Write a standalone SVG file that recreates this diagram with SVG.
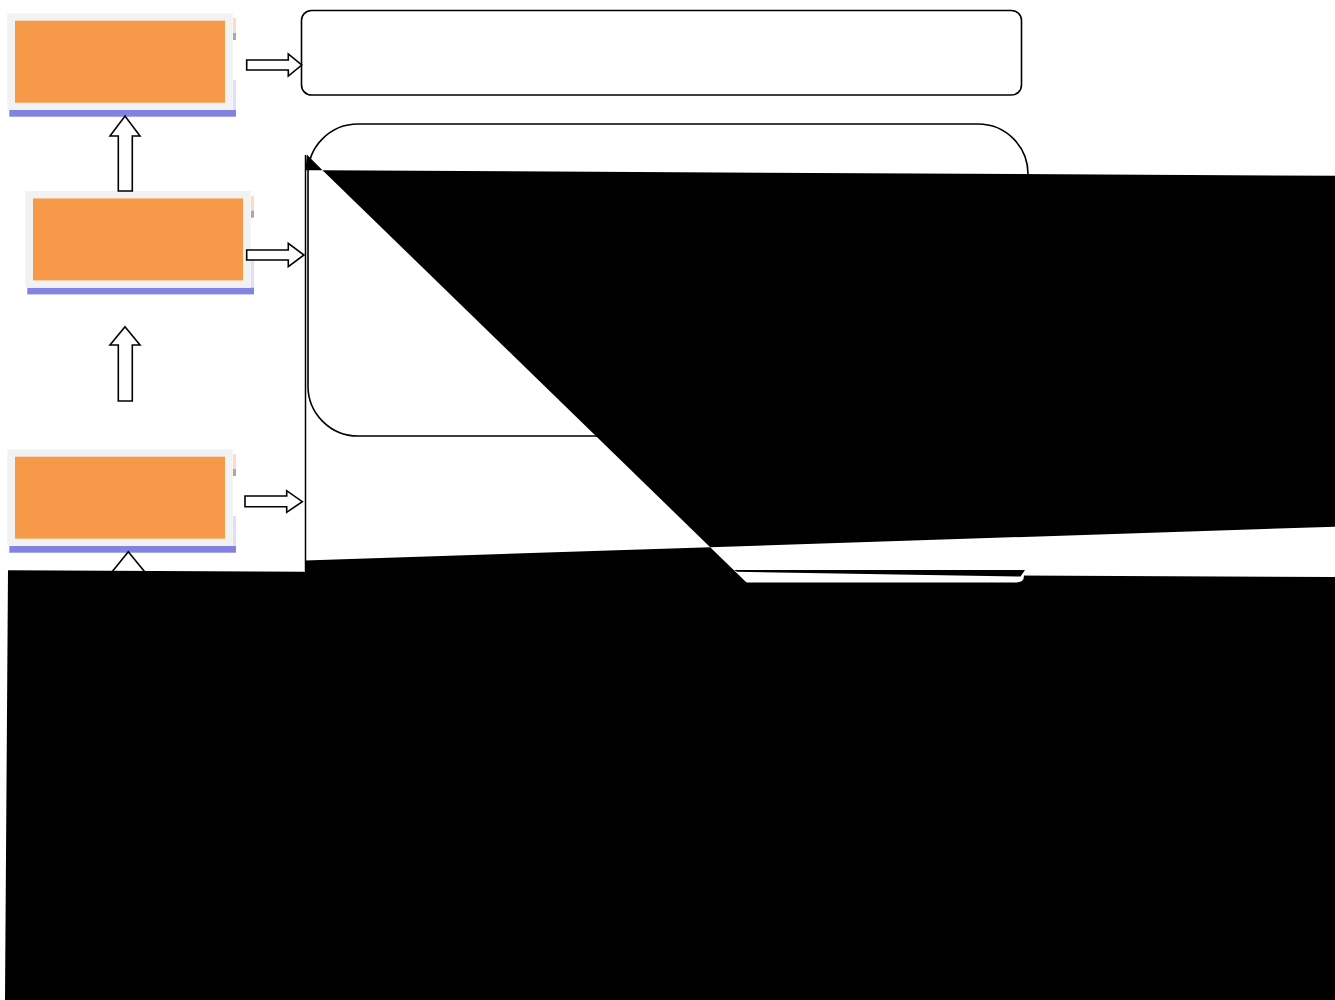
<svg xmlns="http://www.w3.org/2000/svg" width="1335" height="1000" viewBox="0 0 1335 1000">
<style>
.frame{fill:#F2F2F2}
.core{fill:#F69A4A}
.shadow{fill:#8282E0}
.peach{fill:#FCDCC6}
.mauve{fill:#B2A2B4}
.lav{fill:#DEDEFF}
.arrow{fill:#FFFFFF;stroke:#000000;stroke-width:1.6;stroke-linejoin:miter}
.box{fill:#FFFFFF;stroke:#000000;stroke-width:1.6}
.blk{fill:#000000}
</style>
<defs>
<g id="nodeShape">
<rect class="peach" x="225.7" y="4.7" width="3" height="15"/>
<rect class="mauve" x="225.7" y="19.7" width="3" height="7"/>
<rect class="lav" x="225.7" y="66.7" width="3" height="30"/>
<rect class="shadow" x="2" y="96.7" width="226.7" height="6.7"/>
<rect class="frame" x="0" y="0" width="225.4" height="96.7"/>
<rect class="core" x="7.7" y="7.4" width="210" height="82"/>
</g>
</defs>

<g id="node1"><use href="#nodeShape" x="7.3" y="13.3"/></g>
<g id="node2"><use href="#nodeShape" x="25.3" y="191"/></g>
<g id="node3"><use href="#nodeShape" x="7.3" y="449.3"/></g>

<g id="box-top"><rect class="box" x="301.5" y="10.5" width="720" height="84.5" rx="10"/></g>

<g id="connectors">
<polygon class="arrow" points="246.7,60 288.3,60 288.3,54 301.7,65 288.3,76 288.3,70 246.7,70"/>
<polygon class="arrow" points="246.7,250 288.3,250 288.3,243.3 304,255 288.3,266.7 288.3,260 246.7,260"/>
<polygon class="arrow" points="245,496 286.7,496 286.7,490.7 302.3,501.7 286.7,512.3 286.7,506.7 245,506.7"/>
<polygon class="arrow" points="118.3,191 118.3,136 110,136 125,116 140,136 132.3,136 132.3,191"/>
<polygon class="arrow" points="118.3,401 118.3,345 110,345 125,326.7 140,345 132.3,345 132.3,401"/>
<polygon class="arrow" points="121.3,600 121.3,575 109.5,575 128.3,551.7 147.3,575 135.3,575 135.3,600"/>
</g>

<g id="black-base"><polygon class="blk" points="8,570.3 1335,577 1335,1000 5,1000"/></g>

<g id="box-outer">
<path d="M305.5,160 H1024 V576 Q1024,582.5 1016,582.5 H313 Q305.5,582.5 305.5,575 Z" fill="#FFFFFF"/>
<path d="M305.5,155 V571" fill="none" stroke="#000000" stroke-width="1.5"/>
</g>

<g id="box-mid"><rect class="box" x="308" y="124" width="720" height="312" rx="50"/></g>

<g id="black-overlay">
<polygon class="blk" points="306.8,154.5 305.5,170.2 322.5,170.2"/>
<polygon class="blk" points="322.5,170.2 1335,175.8 1335,526.7 710.2,547.2"/>
<polygon class="blk" points="305,560.5 710.2,547.2 747,583 305,583"/>
<polygon class="blk" points="734,570 1025,570 1020.5,576.5 737,571.8"/>
</g>
</svg>
